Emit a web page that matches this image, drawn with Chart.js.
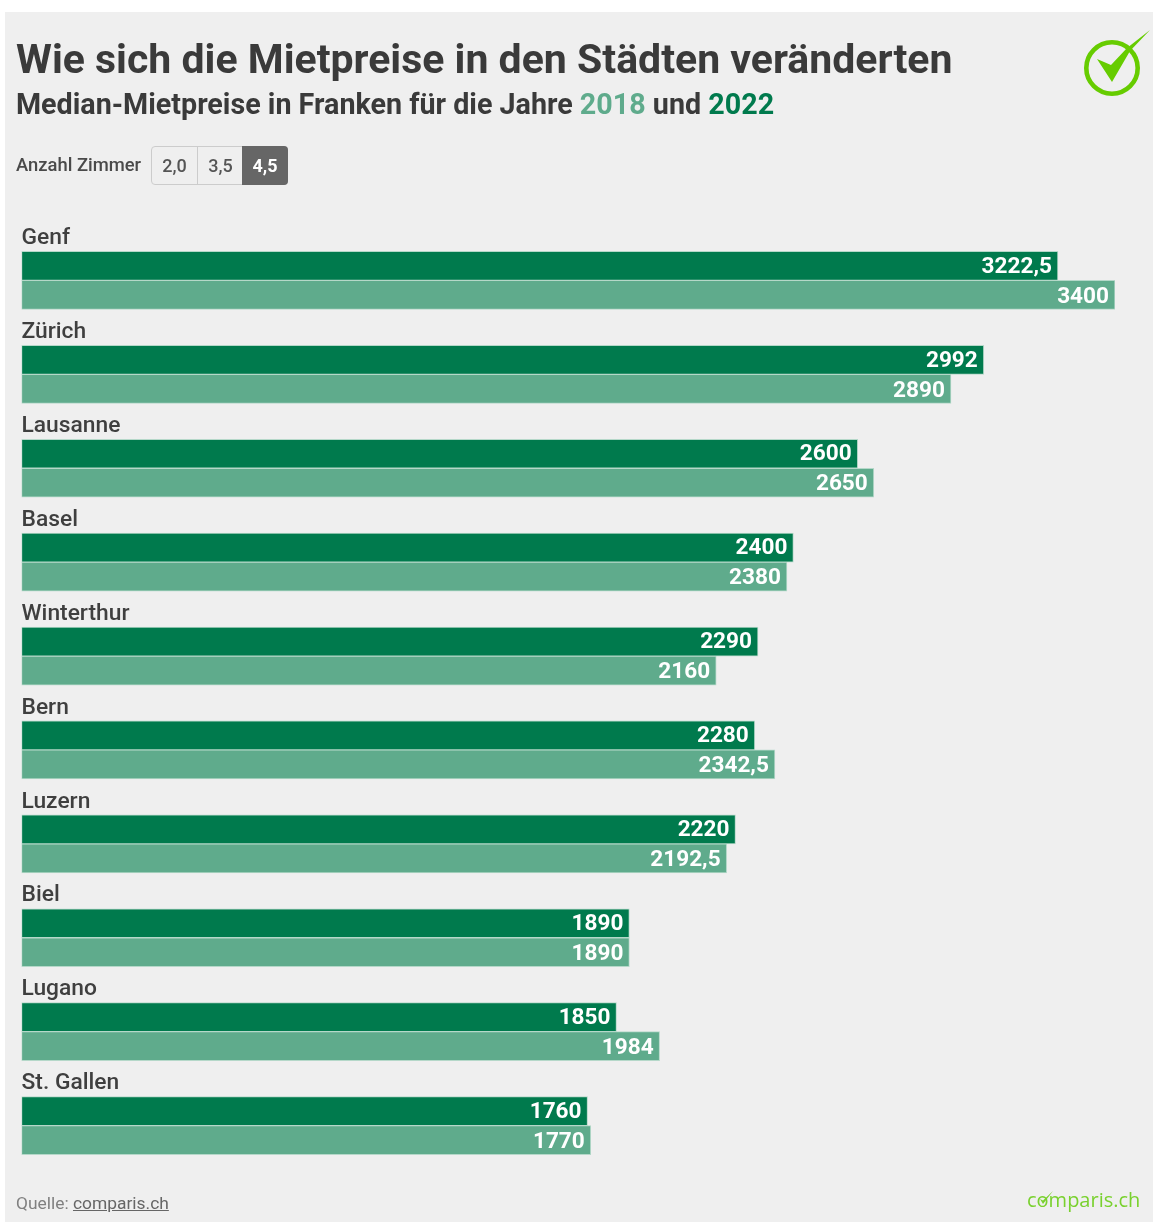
<!DOCTYPE html>
<html lang="de">
<head>
<meta charset="utf-8">
<title>Mietpreise</title>
<script src="https://cdn.jsdelivr.net/npm/chart.js@4"></script>
<style>
html, body { margin: 0; background: #fff; }
body { position: relative; width: 1153px; height: 1222px; overflow: hidden; font-family: Roboto, sans-serif; }
#panel { position: absolute; left: 5px; top: 12px; width: 1148px; height: 1210px; background: #efefef; }
#myChart { position: absolute; left: 0; top: 0; }
.txt { position: absolute; white-space: nowrap; color: #3a3a3a; }
#title { left: 16px; top: 36px; font-size: 41px; line-height: 46px; font-weight: 700; }
#sub { left: 16px; top: 87px; font-size: 28.7px; line-height: 34px; font-weight: 700; }
#sub .a { color: #5fab8c; } #sub .b { color: #007a4d; }
#rooms { left: 16px; top: 154px; font-size: 18.4px; line-height: 22px; font-weight: 500; color: #4a4a4a; }
#btns { position: absolute; left: 151px; top: 146px; height: 37px; display: flex; border: 1px solid #ccc; border-radius: 4px; font-size: 18px; font-weight: 500; color: #555; line-height: 37px; text-align: center; }
#btns div { width: 45px; border-left: 1px solid #ccc; }
#btns div:first-child { border-left: 0; }
#btns .on { width: 46px; background: #666; color: #fff; font-weight: 700; margin: -1px -1px -1px -1px; padding-top: 1px; padding-bottom: 1px; border-radius: 0 4px 4px 0; border-left: 0; }
#src { left: 16px; top: 1192px; font-size: 17.4px; line-height: 22px; color: #808080; }
#src u { color: #666; }
#brand { left: 1027px; top: 1187px; font-family: "Open Sans", sans-serif; font-size: 20px; line-height: 26px; color: #79d12e; }
</style>
</head>
<body>
<div id="panel"></div>
<canvas id="myChart" width="1153" height="1222"></canvas>
<div class="txt" id="title">Wie sich die Mietpreise in den Städten veränderten</div>
<div class="txt" id="sub">Median-Mietpreise in Franken für die Jahre <span class="a">2018</span> und <span class="b">2022</span></div>
<div class="txt" id="rooms">Anzahl Zimmer</div>
<div id="btns"><div>2,0</div><div>3,5</div><div class="on">4,5</div></div>
<svg style="position:absolute;left:1082px;top:28px" width="71" height="70" viewBox="0 0 71 70">
  <circle cx="30" cy="40" r="25.7" fill="none" stroke="#66cc00" stroke-width="4.6"/>
  <path d="M15 31 L29 37 L45 20 L68 2 L48 23 L30 54 Z" fill="#66cc00"/>
</svg>
<div class="txt" id="src">Quelle: <u>comparis.ch</u></div>
<div class="txt" id="brand">comparis.ch</div>
<svg style="position:absolute;left:1037px;top:1190px" width="18" height="18" viewBox="0 0 18 18">
  <path d="M3 9 L6 10.5 L16 1 L6 14 Z" fill="#79d12e"/>
</svg>

<script>
const cities = ["Genf", "Zürich", "Lausanne", "Basel", "Winterthur", "Bern", "Luzern", "Biel", "Lugano", "St. Gallen"];
const values2022 = [3222.5, 2992, 2600, 2400, 2290, 2280, 2220, 1890, 1850, 1760];
const values2018 = [3400, 2890, 2650, 2380, 2160, 2342.5, 2192.5, 1890, 1984, 1770];

// white numbers at the inner end of each bar
const barLabels = {
    id: "barLabels",
    afterDatasetsDraw(chart) {
        const ctx = chart.ctx;
        ctx.save();
        ctx.font = "700 22.6px Roboto";
        ctx.fillStyle = "#fff";
        ctx.textAlign = "right";
        ctx.textBaseline = "middle";
        chart.data.datasets.forEach((ds, i) => {
            chart.getDatasetMeta(i).data.forEach((bar, j) => {
                ctx.fillText(String(ds.data[j]).replace(".", ","), bar.x - 6, bar.y + (i ? 2 : 1));
            });
        });
        ctx.restore();
    }
};

new Chart(document.getElementById("myChart"), {
    type: "bar",
    data: {
        labels: cities,
        datasets: [
            { label: "2022", data: values2022, backgroundColor: "#007a4d", borderColor: "#b5d8c9", borderWidth: 1 },
            { label: "2018", data: values2018, backgroundColor: "#5fab8c", borderColor: "#b5d8c9", borderWidth: 1 }
        ]
    },
    options: {
        indexAxis: "y",
        animation: false,
        responsive: false,
        layout: { padding: { left: 21.5, right: 38, top: 233.5, bottom: 49.5 } },
        datasets: { bar: { barThickness: 29, categoryPercentage: 0.62, barPercentage: 1, borderSkipped: false } },
        plugins: { legend: { display: false }, tooltip: { enabled: false } },
        scales: {
            x: { display: false, min: 0, max: 3400 },
            y: {
                grid: { display: false, drawTicks: false },
                border: { display: false },
                ticks: {
                    mirror: true,
                    padding: 0,
                    labelOffset: -42,
                    color: "#3f3f3f",
                    font: { family: "Roboto", size: 22.8, weight: "500" }
                }
            }
        }
    },
    plugins: [barLabels]
});
</script>
</body>
</html>
